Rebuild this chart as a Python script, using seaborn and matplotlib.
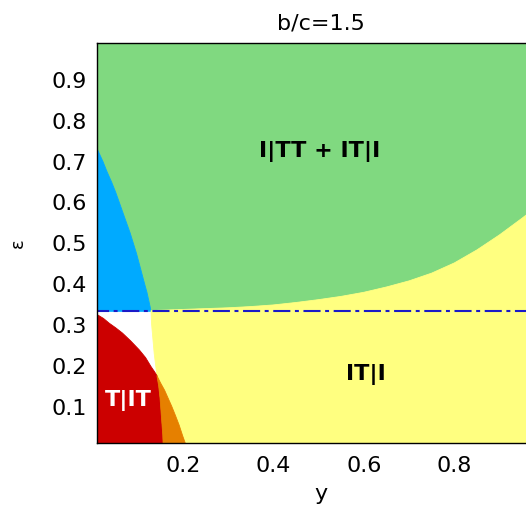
import numpy as np
import pandas as pd
import matplotlib
matplotlib.use("Agg")
import matplotlib.pyplot as plt
import seaborn as sns

# Phase boundaries in the (y, epsilon) plane, b/c = 1.5
eps_threshold = 1.0 / 3.0

# blue | green boundary (from the left edge down to the threshold line)
blue_y = [0.010, 0.017, 0.024, 0.033, 0.043, 0.052, 0.060, 0.068, 0.076, 0.084,
          0.091, 0.098, 0.104, 0.110, 0.116, 0.121, 0.125, 0.128, 0.130]
blue_eps = [0.734, 0.717, 0.700, 0.675, 0.650, 0.625, 0.600, 0.575, 0.550, 0.525,
            0.500, 0.475, 0.450, 0.425, 0.400, 0.380, 0.360, 0.345, 0.3333]

# green | yellow boundary
green_y = [0.130, 0.15, 0.20, 0.25, 0.30, 0.35, 0.40, 0.45, 0.50, 0.55, 0.60,
           0.65, 0.70, 0.75, 0.80, 0.85, 0.90, 0.95, 1.00]
green_eps = [0.335, 0.336, 0.338, 0.340, 0.342, 0.345, 0.349, 0.355, 0.362, 0.370,
             0.380, 0.393, 0.408, 0.427, 0.452, 0.484, 0.521, 0.562, 0.605]

# red boundary (white above, orange to the right below the junction)
red_y = [0.010, 0.025, 0.038, 0.052, 0.067, 0.085, 0.104, 0.118, 0.130, 0.138,
         0.143, 0.147, 0.150, 0.152, 0.154, 0.156, 0.157]
red_eps = [0.326, 0.316, 0.304, 0.293, 0.280, 0.261, 0.239, 0.220, 0.198, 0.185,
           0.176, 0.150, 0.120, 0.090, 0.060, 0.030, 0.0]
junction = 10  # index where white, yellow, red and orange meet

# white | yellow boundary
white_y = [0.130, 0.131, 0.133, 0.135, 0.137, 0.140, 0.143]
white_eps = [0.3333, 0.305, 0.280, 0.255, 0.230, 0.203, 0.176]

# orange | yellow boundary
orange_y = [0.143, 0.151, 0.160, 0.168, 0.176, 0.184, 0.192, 0.200, 0.209]
orange_eps = [0.176, 0.158, 0.140, 0.120, 0.100, 0.078, 0.055, 0.028, 0.0]

region_labels = ["I|TT + IT|I", "IT|I", "T|IT"]
label_y = [0.503, 0.605, 0.080]
label_eps = [0.724, 0.178, 0.115]
label_colors = ["black", "black", "white"]

xticks = [0.2, 0.4, 0.6, 0.8]
xtick_labels = ["0.2", "0.4", "0.6", "0.8"]
yticks = [0.1, 0.2, 0.3, 0.4, 0.5, 0.6, 0.7, 0.8, 0.9]
ytick_labels = ["0.1", "0.2", "0.3", "0.4", "0.5", "0.6", "0.7", "0.8", "0.9"]

c_green = "#80D980"
c_blue = "#00AAFF"
c_red = "#CC0000"
c_orange = "#E68000"
c_yellow = "#FFFF80"
c_line = "#1A1AC8"

sns.set_style("ticks")
plt.rcParams["font.family"] = ["DejaVu Sans"]
plt.rcParams["text.color"] = "black"
plt.rcParams["axes.labelcolor"] = "black"
plt.rcParams["xtick.color"] = "black"
plt.rcParams["ytick.color"] = "black"

fig = plt.figure(figsize=(5.26, 5.18), dpi=100)
ax = fig.add_axes([0.1838, 0.1442, 0.8523, 0.7722])
ax.set_facecolor("white")
ax.set_xlim(0.01, 1.0)
ax.set_ylim(0.01, 0.99)


def patch(xs, ys, color):
    ax.fill(xs, ys, facecolor=color, edgecolor=color, linewidth=0.6, zorder=1)


# green: above the blue and green boundaries
gx = list(blue_y) + list(green_y[1:]) + [1.0, 0.01]
gy = list(blue_eps) + list(green_eps[1:]) + [1.0, 1.0]
patch(gx, gy, c_green)

# blue: left pocket above the threshold
patch([0.01] + blue_y, [eps_threshold] + blue_eps, c_blue)

# yellow: below the green boundary, right of white/orange
yx = list(green_y) + [1.0, orange_y[-1]] + orange_y[::-1][1:] + white_y[::-1][1:]
yy = list(green_eps) + [0.0, orange_eps[-1]] + orange_eps[::-1][1:] + white_eps[::-1][1:]
patch(yx, yy, c_yellow)

# red
patch([0.01] + red_y, [0.0] + red_eps, c_red)

# orange: wedge between the red and the yellow
ox = red_y[junction:] + orange_y[::-1]
oy = red_eps[junction:] + orange_eps[::-1]
patch(ox, oy, c_orange)

# threshold line epsilon = 1/3
line_df = pd.DataFrame({"y": [0.0, 1.0], "eps": [eps_threshold, eps_threshold]})
sns.lineplot(data=line_df, x="y", y="eps", ax=ax, color=c_line, linewidth=1.5, zorder=3)
ax.lines[-1].set_dashes((8.2, 2.2, 1.9, 2.2))

for txt, lx, ly, col in zip(region_labels, label_y, label_eps, label_colors):
    ax.text(lx, ly, txt, color=col, fontsize=16, fontweight="bold",
            ha="center", va="center", zorder=4)

ax.set_xticks(xticks)
ax.set_xticklabels(xtick_labels)
ax.set_yticks(yticks)
ax.set_yticklabels(ytick_labels)
ax.tick_params(axis="both", direction="in", length=3.5, width=0.8,
               top=True, right=True, labelsize=16, color="black", labelcolor="black")
ax.tick_params(axis="x", pad=9)
ax.tick_params(axis="y", pad=7)
for sp in ax.spines.values():
    sp.set_visible(True)
    sp.set_color("black")
    sp.set_linewidth(1.0)
    sp.set_zorder(5)

ax.set_xlabel("y", fontsize=16, labelpad=6)
ax.set_ylabel("ε", fontsize=13, labelpad=18, rotation=90)
ax.set_title("b/c=1.5", fontsize=16, pad=10)

fig.savefig("out.png", dpi=100)
